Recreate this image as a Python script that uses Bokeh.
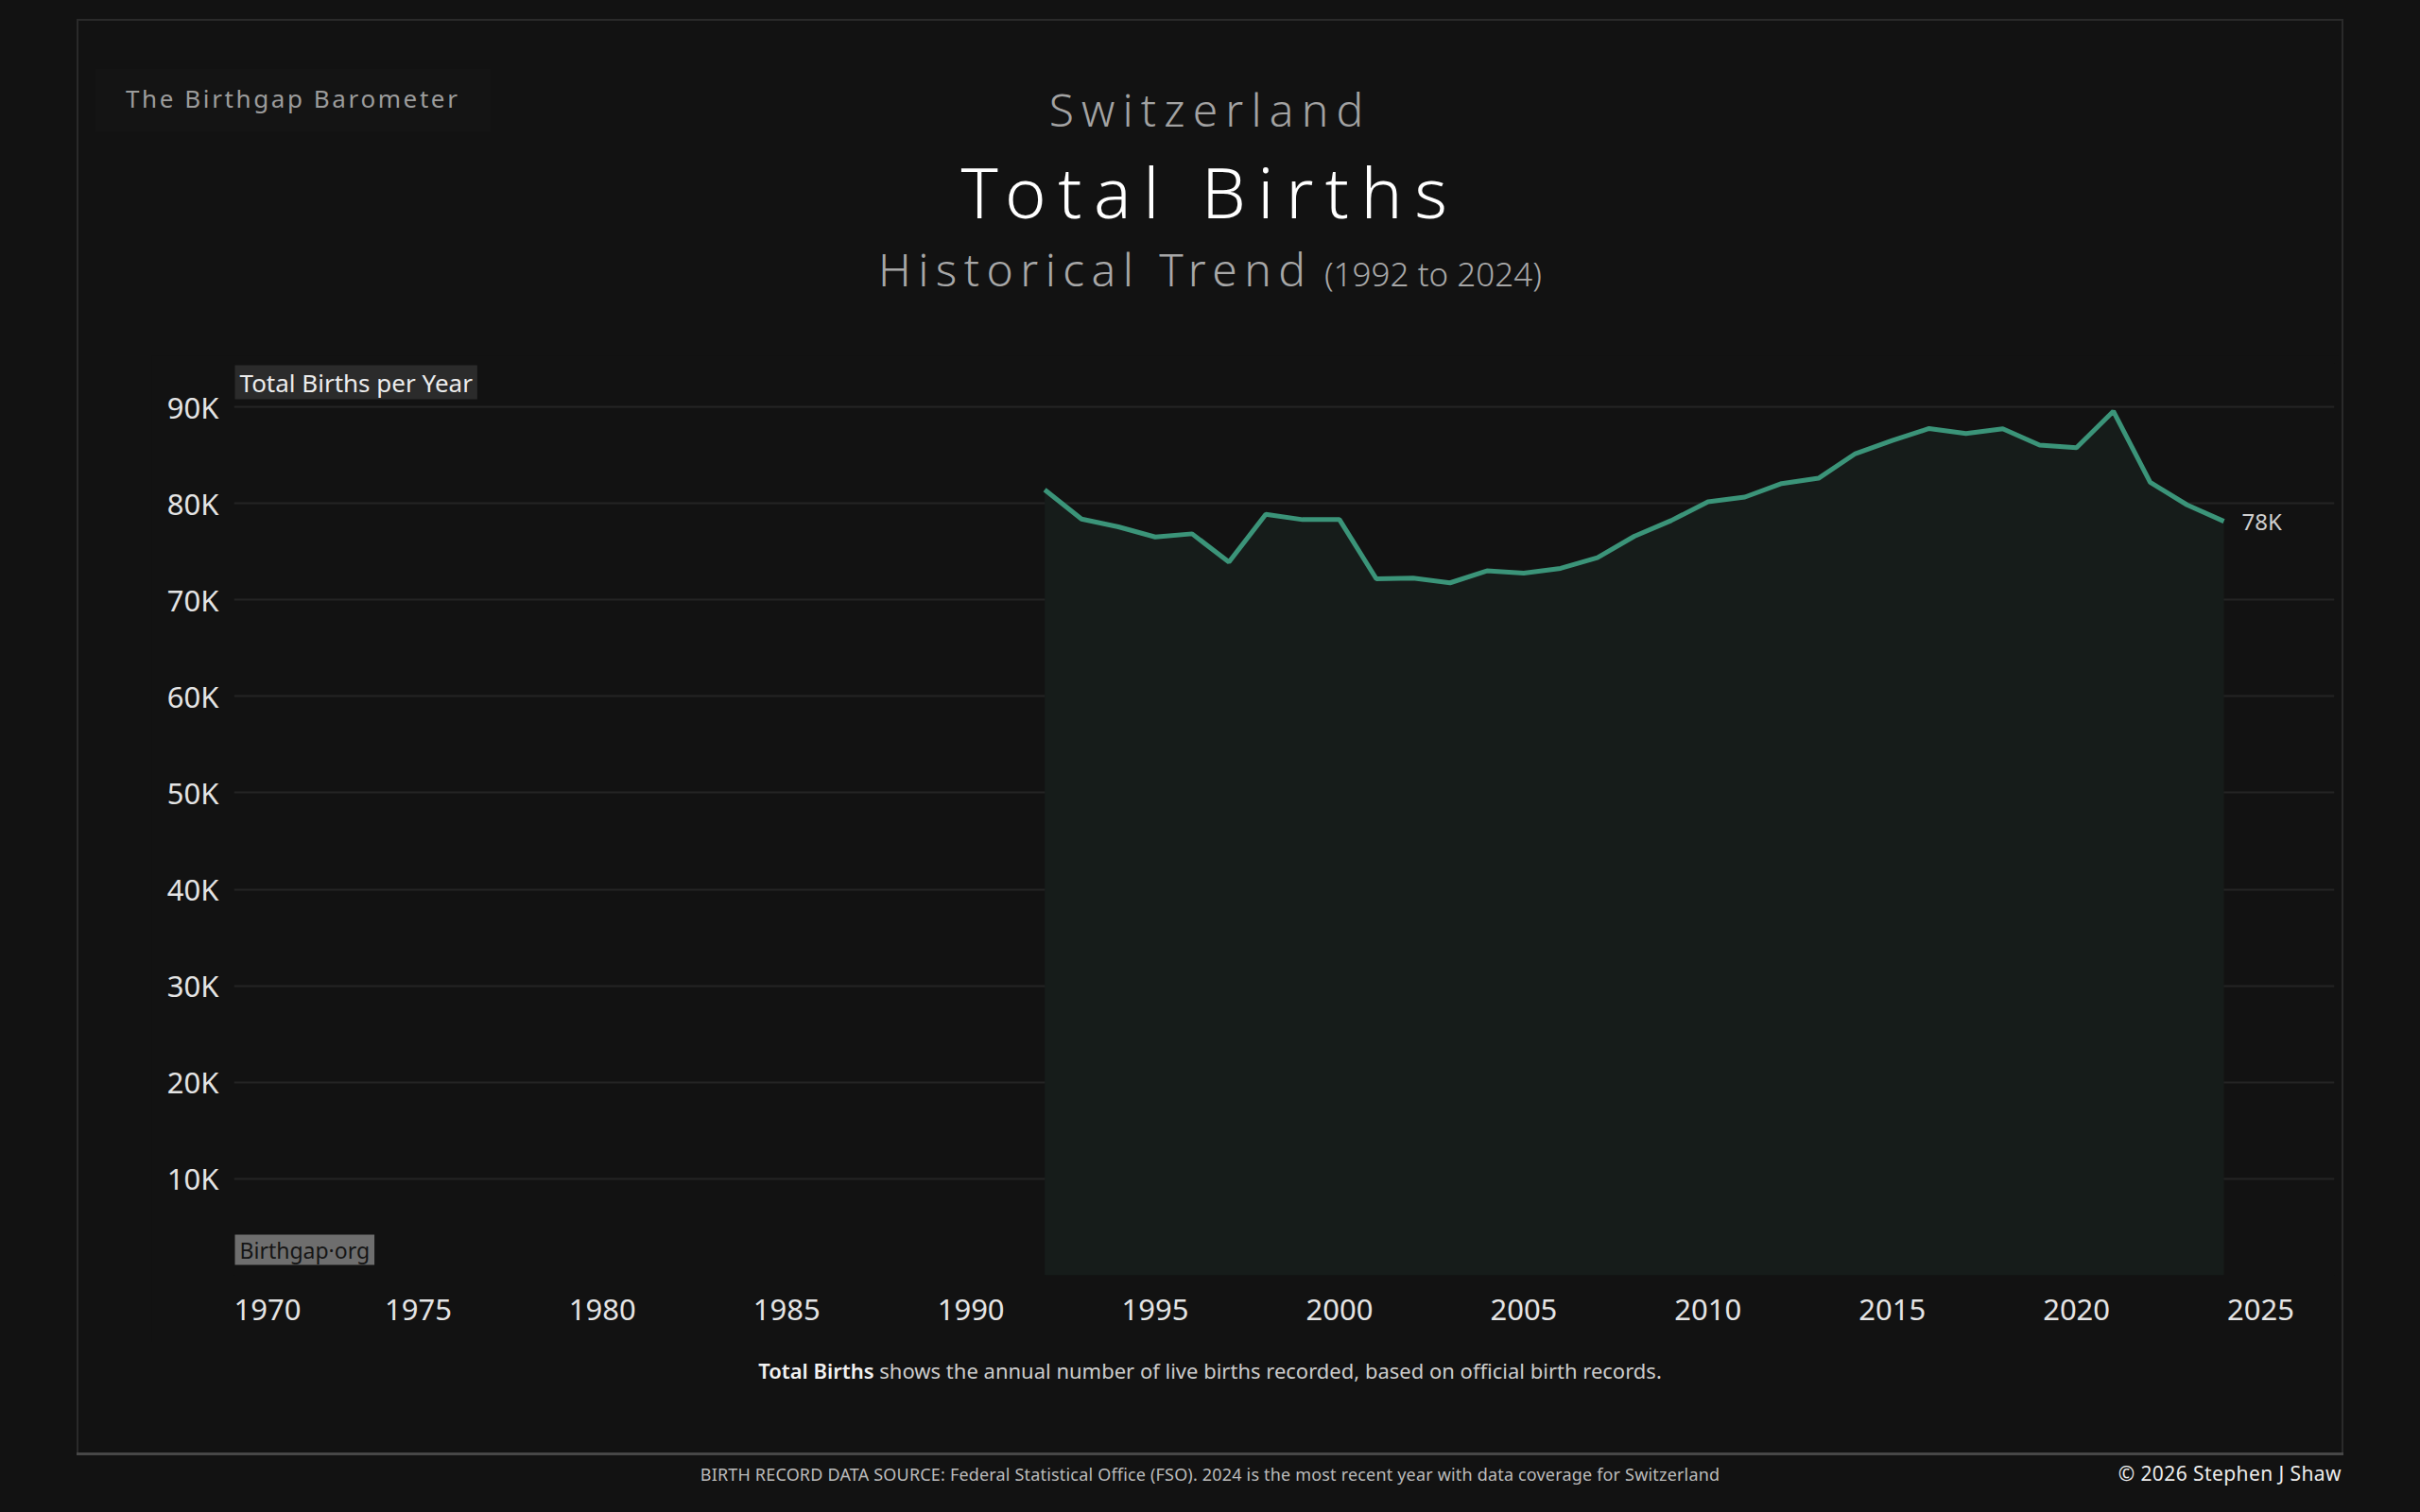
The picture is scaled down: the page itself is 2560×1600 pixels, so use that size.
from bokeh.plotting import figure
from bokeh.models import Label, FixedTicker, ColumnDataSource, Range1d, Div
from bokeh.layouts import column, row
from bokeh.embed import file_html
from bokeh.resources import INLINE

# ---------------- data ----------------
years = list(range(1992, 2025))
births = [81400, 78370, 77560, 76510, 76840, 73910, 78860, 78310, 78310, 72180,
          72250, 71760, 73000, 72770, 73260, 74360, 76580, 78210, 80160, 80650,
          82050, 82600, 85150, 86510, 87750, 87230, 87720, 86030, 85770, 89540,
          82180, 79840, 78140]
x_ticks = [1970, 1975, 1980, 1985, 1990, 1995, 2000, 2005, 2010, 2015, 2020, 2025]
# first tick label sits against the left edge (figure spaces push it right)
x_tick_labels = {1970: "\u2007\u2007\u2007\u20071970"}
y_ticks = [10000, 20000, 30000, 40000, 50000, 60000, 70000, 80000, 90000]
y_tick_labels = {v: f"{v // 1000}K" for v in y_ticks}

brand = "The Birthgap Barometer"
country = "Switzerland"
title = "Total Births"
subtitle = "Historical Trend"
period = f"({years[0]} to {years[-1]})"
caption_bold = "Total Births"
caption_rest = "shows the annual number of live births recorded, based on official birth records."
source_note = ("BIRTH RECORD DATA SOURCE: Federal Statistical Office (FSO). 2024 is the most recent "
               "year with data coverage for Switzerland")
copyright_note = "\u00a9 2026 Stephen J Shaw"

BG = "#121212"
BORDER = "#2a2a2a"
FONT = "Noto Sans"

TOTAL_W = 2560
HEAD_TOP, MID_TOP, CAP_TOP, FOOT_TOP, PAGE_BOTTOM = 0, 376, 1420, 1540, 1600
LEFT_EDGE, RIGHT_EDGE = 160, 2474  # figure's horizontal extent in page pixels
# frame edges in page pixels
FL, FR, FT, FB = 247, 2469, 384, 1349
BL, BR = 81, 2477  # outer border x positions (page pixels)
BT, BB = 20, 1537  # outer border y positions (page pixels)
BGSTYLE = {"background-color": BG}


def box(left, top, width, height, color):
    return (f'<div style="position:absolute;left:{left}px;top:{top}px;width:{width}px;'
            f'height:{height}px;background:{color};"></div>')


def txt(content, top, size, color, left=None, right=None, center=False, spacing=0, weight=400):
    pos = f"top:{top:.1f}px;"
    if center:
        pos += "left:0;width:100%;text-align:center;"
    elif right is not None:
        pos += f"right:{right}px;text-align:right;"
    else:
        pos += f"left:{left}px;"
    return (f'<div style="position:absolute;{pos}font-family:\'{FONT}\';font-size:{size}px;'
            f'line-height:1;color:{color};letter-spacing:{spacing}em;font-weight:{weight};'
            f'white-space:nowrap;">{content}</div>')


def panel(width, height, inner):
    return Div(width=width, height=height, margin=0, styles=BGSTYLE,
               text=(f'<div style="position:relative;width:{width}px;height:{height}px;'
                     f'overflow:hidden;background:{BG};">{inner}</div>'))


def base_top(baseline, size):
    return baseline - 0.888 * size


# ---------------- header ----------------
hy = HEAD_TOP
HEAD_H = MID_TOP - HEAD_TOP
head_inner = (
    box(BL, BT - hy, BR - BL + 2, 2, BORDER)
    + box(BL, BT - hy, 2, HEAD_H, BORDER)
    + box(BR, BT - hy, 2, HEAD_H, BORDER)
    + box(101, 73 - hy, 418, 66, "#141414")
    + txt(brand, base_top(114, 26) - hy, 26, "#9c9c9c", left=133, spacing=0.1)
    + txt(country, base_top(135, 48) - hy, 48, "#a3a3a3", center=True, spacing=0.17, weight=300)
    + txt(title, base_top(232, 74) - hy, 74, "#ffffff", center=True, spacing=0.17, weight=300)
    + txt(f'<span style="letter-spacing:0.155em">{subtitle}</span> '
          f'<span style="font-size:35px;letter-spacing:0">{period}</span>',
          base_top(304, 48) - hy, 48, "#a8a8a8", center=True, weight=300)
)
header = panel(TOTAL_W, HEAD_H, head_inner)

MID_H = CAP_TOP - MID_TOP
left_side = panel(LEFT_EDGE, MID_H, box(BL, 0, 2, MID_H, BORDER))
right_side = panel(TOTAL_W - RIGHT_EDGE, MID_H, box(BR - RIGHT_EDGE, 0, 2, MID_H, BORDER))

CAP_H = FOOT_TOP - CAP_TOP
cy = CAP_TOP
cap_inner = (
    box(BL, 0, 2, BB - cy, BORDER)
    + box(BR, 0, 2, BB - cy, BORDER)
    + box(BL, BB - cy, BR - BL + 2, 3, "#474747")
    + txt(f'<b style="color:#f2f2f2;font-weight:600">{caption_bold}</b> {caption_rest}',
          base_top(1458, 22) - cy, 22, "#cccccc", center=True)
)
caption = panel(TOTAL_W, CAP_H, cap_inner)

FOOT_H = PAGE_BOTTOM - FOOT_TOP
fy = FOOT_TOP
foot_inner = (
    txt(source_note, base_top(1567, 18) - fy, 18, "#bbbbbb", center=True, spacing=0.01)
    + txt(copyright_note, base_top(1568, 21) - fy, 21, "#ececec", right=TOTAL_W - BR, spacing=0.02)
)
footer = panel(TOTAL_W, FOOT_H, foot_inner)

# ---------------- chart ----------------
ppk = (FB - 430) / 90.0  # pixels per 1000 births (90K gridline at y=430)
y_max = (FB - FT) / ppk * 1000

p = figure(width=RIGHT_EDGE - LEFT_EDGE, height=MID_H, x_range=Range1d(1970, 2027),
           y_range=Range1d(0, y_max), output_backend="svg", toolbar_location=None, margin=0,
           min_border_left=FL - LEFT_EDGE, min_border_right=RIGHT_EDGE - FR,
           min_border_top=FT - MID_TOP, min_border_bottom=CAP_TOP - FB, styles=BGSTYLE)
p.background_fill_color = BG
p.border_fill_color = BG
p.outline_line_color = None

p.xgrid.grid_line_color = None
p.ygrid.grid_line_color = "#242424"
p.ygrid.grid_line_width = 2
p.ygrid.ticker = FixedTicker(ticks=y_ticks)

p.xaxis.ticker = FixedTicker(ticks=x_ticks)
p.xaxis.major_label_overrides = x_tick_labels
p.yaxis.ticker = FixedTicker(ticks=y_ticks)
p.yaxis.major_label_overrides = y_tick_labels
for ax in (p.xaxis, p.yaxis):
    ax.axis_line_color = None
    ax.major_tick_line_color = None
    ax.minor_tick_line_color = None
    ax.major_label_text_font = FONT
    ax.major_label_text_font_size = "31px"
    ax.major_label_text_color = "#e4e4e4"
p.xaxis.major_label_standoff = 8
p.yaxis.major_label_standoff = 10

src = ColumnDataSource(dict(x=years, y=births))
p.varea(x="x", y1=0, y2="y", source=src, fill_color="#161c1a")
p.line(x="x", y="y", source=src, line_color="#3b9479", line_width=5)

p.add_layout(Label(x=years[-1], y=births[-1], text=f"{round(births[-1] / 1000)}K",
                   x_offset=19, text_baseline="middle", text_align="left",
                   text_font=FONT, text_font_size="24px", text_color="#cfcfcf"))


def flab(text, X, Y, size, color, bg):
    p.add_layout(Label(x=X - FL, y=FB - Y, x_units="screen", y_units="screen", text=text,
                       text_align="left", text_baseline="middle", text_font=FONT,
                       text_font_size=f"{size}px", text_color=color,
                       background_fill_color=bg,
                       padding=dict(left=5, right=5, top=0, bottom=0)))


flab("Total Births per Year", 248, 404, 26, "#ececec", "#2b2b2b")
flab("Birthgap\u00b7org", 248, 1322, 23, "#151515", "#6e6e6e")

layout = column(header, row(left_side, p, right_side, spacing=0, margin=0, styles=BGSTYLE),
                caption, footer, spacing=0, margin=0, styles=BGSTYLE)

open("out.html", "w").write(file_html(layout, INLINE))
